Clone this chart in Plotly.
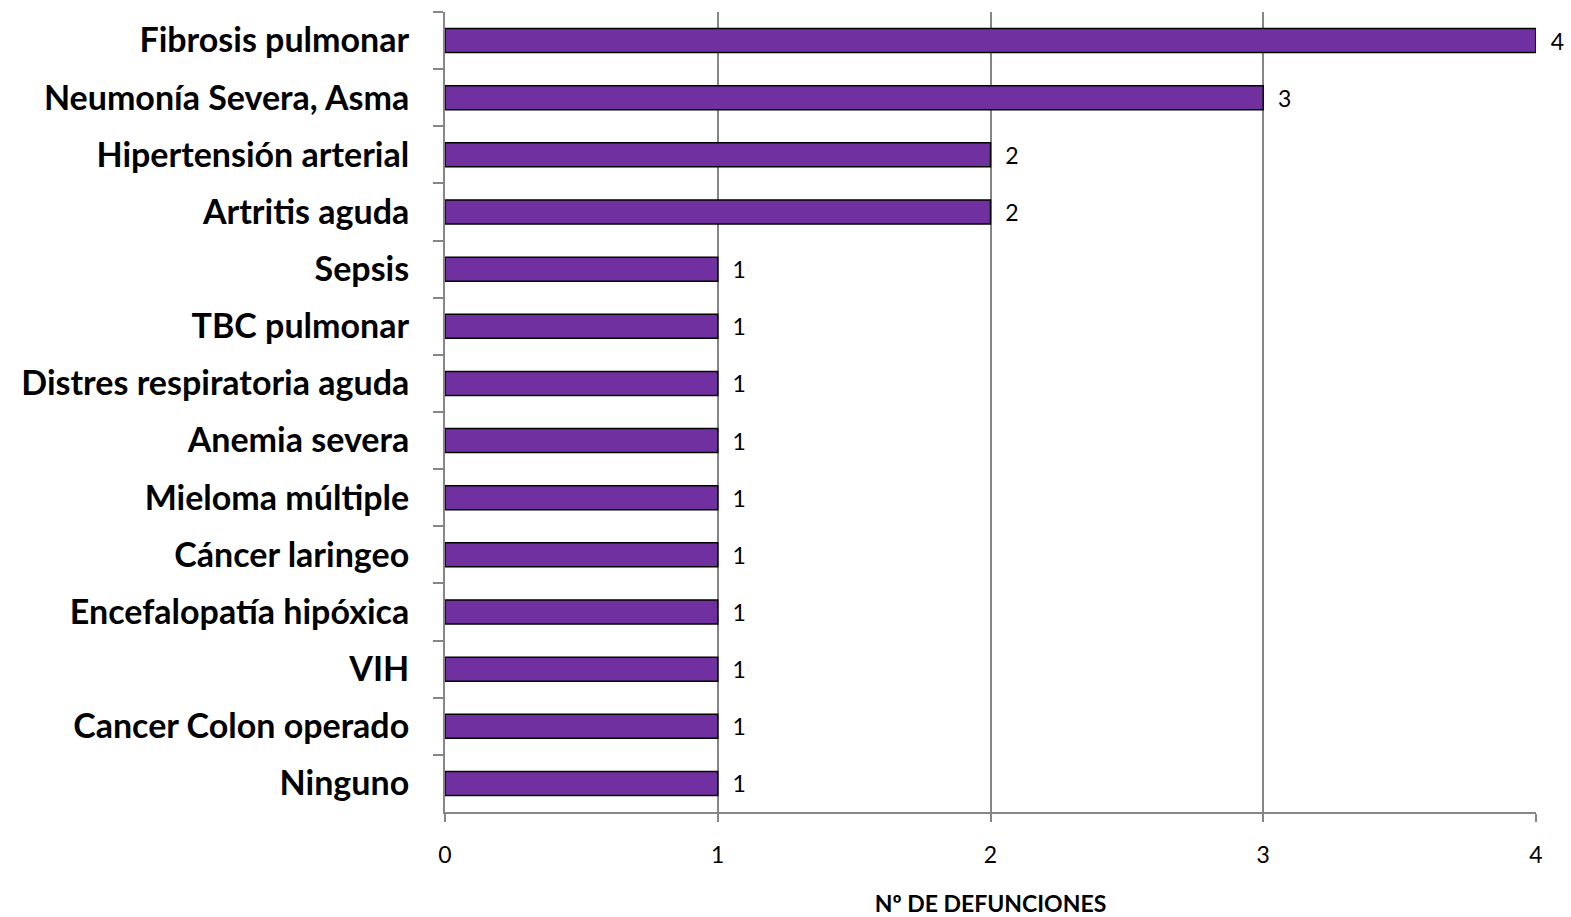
import plotly.graph_objects as go

categories = ["Fibrosis pulmonar", "Neumonía Severa, Asma", "Hipertensión arterial",
              "Artritis aguda", "Sepsis", "TBC pulmonar", "Distres respiratoria aguda",
              "Anemia severa", "Mieloma múltiple", "Cáncer laringeo",
              "Encefalopatía hipóxica", "VIH", "Cancer Colon operado", "Ninguno"]
values = [4, 3, 2, 2, 1, 1, 1, 1, 1, 1, 1, 1, 1, 1]
x_ticks = [0, 1, 2, 3, 4]

fig = go.Figure(go.Bar(
    y=categories, x=values, orientation="h",
    marker=dict(color="#7030A0", line=dict(color="black", width=1.5)),
    texttemplate="  %{x}", textposition="outside", constraintext="none",
    textfont=dict(family="Lato", size=23, color="black"),
    cliponaxis=False, width=0.42, hoverinfo="skip",
))

fig.update_layout(
    width=1571, height=917,
    margin=dict(l=445, r=35, t=12, b=105, pad=0),
    plot_bgcolor="white", paper_bgcolor="white",
    showlegend=False,
    font=dict(family="Lato", color="black"),
    xaxis=dict(range=[0, 4], tickvals=x_ticks, showgrid=True, gridcolor="#868686", gridwidth=2,
               showline=True, linecolor="#868686", linewidth=2, automargin=False,
               ticks="outside", ticklen=8, tickcolor="#868686", tickwidth=2,
               tickfont=dict(size=23, family="Lato"), zeroline=False, ticklabelstandoff=13,
               title=dict(text="<b>Nº DE DEFUNCIONES</b>", font=dict(size=23, family="Lato"), standoff=50)),
    yaxis=dict(categoryorder="array", categoryarray=categories, autorange="reversed",
               showline=True, linecolor="#868686", linewidth=2, automargin=False,
               ticks="outside", ticklen=10, tickcolor="#868686", tickwidth=2, tickson="boundaries",
               tickfont=dict(size=34, family="Lato", weight="bold"), ticklabelstandoff=27),
)

fig.write_html("out.html", config={"displayModeBar": False},
               post_script="document.body.style.margin='0px';document.documentElement.style.overflow='hidden';")
